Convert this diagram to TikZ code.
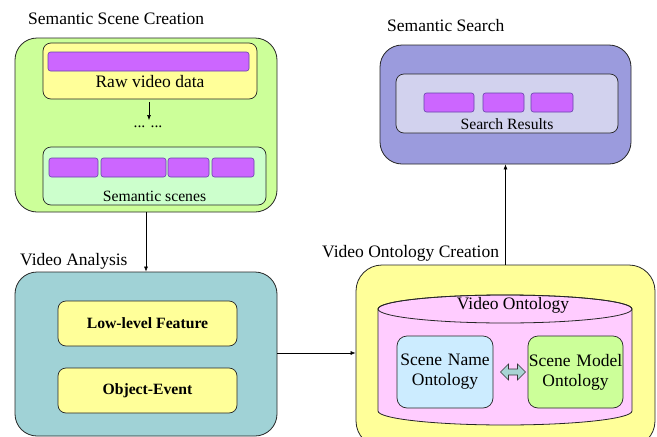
\documentclass[tikz,border=0pt]{standalone}
\usepackage{fontspec}
\setmainfont{Liberation Serif}
\usetikzlibrary{shapes.arrows,arrows.meta}
\definecolor{sscfill}{HTML}{CCFF99}
\definecolor{yel}{HTML}{FFFF99}
\definecolor{purp}{HTML}{CC66FF}
\definecolor{purpb}{HTML}{6644AA}
\definecolor{scfill}{HTML}{CCFFCC}
\definecolor{vafill}{HTML}{A0D2D6}
\definecolor{ssfill}{HTML}{9B9BDD}
\definecolor{srfill}{HTML}{D2D2EE}
\definecolor{pink}{HTML}{FFCCFF}
\definecolor{snfill}{HTML}{CCECFF}
\definecolor{smfill}{HTML}{CCFF99}
\definecolor{darr}{HTML}{A8D4D4}
\tikzset{
  big/.style={font=\fontsize{17.5}{20}\selectfont},
  small/.style={font=\fontsize{15.7}{18}\selectfont},
  group/.style={draw=black!85, line width=0.8pt, rounded corners=22pt, inner sep=0pt},
  inbox/.style={draw=black!85, line width=0.7pt, rounded corners=8pt, inner sep=0pt},
  bar/.style={draw=purpb, fill=purp, line width=0.6pt, rounded corners=2.5pt, minimum height=19pt, inner sep=0pt},
  title/.style={big, anchor=west, inner sep=0pt},
  conn/.style={line width=0.6pt, -{Latex[length=5pt,width=4pt]}},
}
\begin{document}
\begin{tikzpicture}[x=1pt,y=-1pt]
\useasboundingbox (0,0) rectangle (657,437);
% Semantic Scene Creation
\node[title] (tssc) at (28,19) {Semantic Scene Creation};
\node[group, fill=sscfill, minimum width=262pt, minimum height=174pt] (ssc) at (146,125) {};
\node[inbox, fill=yel, minimum width=214pt, minimum height=56pt] (raw) at (150,71) {};
\node[bar, minimum width=201pt] (rawbar) at (148.5,61.5) {};
\node[big, inner sep=0pt] (rawt) at (150,82) {Raw video data};
\node[small, inner sep=0pt] (dots) at (148,127) {... ...};
\coordinate (a0) at (149,102);
\coordinate (a1) at (149,120);
\draw[conn] (a0) -- (a1);
\node[inbox, fill=scfill, minimum width=223pt, minimum height=58pt] (sc) at (154.5,176) {};
\node[bar, minimum width=49pt] (b1) at (73.5,167.5) {};
\node[bar, minimum width=65pt] (b2) at (133.5,167.5) {};
\node[bar, minimum width=41pt] (b3) at (188.5,167.5) {};
\node[bar, minimum width=42pt] (b4) at (233,167.5) {};
\node[small, inner sep=0pt] (sct) at (154.5,196) {Semantic scenes};
% Video Analysis
\node[title] (tva) at (20,261) {Video Analysis};
\node[group, fill=vafill, minimum width=262pt, minimum height=164pt] (va) at (146,354) {};
\node[inbox, fill=yel, minimum width=179pt, minimum height=45pt, font=\fontsize{15.7}{18}\selectfont\bfseries] (llf) at (147.5,323.5) {Low-level Feature};
\node[inbox, fill=yel, minimum width=179pt, minimum height=45pt, font=\fontsize{15.7}{18}\selectfont\bfseries] (oe) at (147.5,390.5) {Object-Event};
% Semantic Search
\node[title] (tss) at (387,26) {Semantic Search};
\node[group, fill=ssfill, minimum width=251pt, minimum height=119pt] (ss) at (505.5,104.5) {};
\node[inbox, fill=srfill, minimum width=222pt, minimum height=59pt] (sr) at (507,103.5) {};
\node[bar, minimum width=50pt] (s1) at (449,102.5) {};
\node[bar, minimum width=41pt] (s2) at (503.5,102.5) {};
\node[bar, minimum width=42pt] (s3) at (552,102.5) {};
\node[small, inner sep=0pt] (srt) at (507,124) {Search Results};
% Video Ontology Creation
\node[title] (tvoc) at (322,253) {Video Ontology Creation};
\node[group, fill=yel, rounded corners=26pt, minimum width=299pt, minimum height=182pt] (voc) at (505.5,356) {};
% cylinder
\filldraw[fill=pink, draw=black!85, line width=0.8pt] (378,309) -- (378,411) arc[start angle=180, end angle=360, x radius=127, y radius=-14] -- (632,309) arc[start angle=0, end angle=180, x radius=127, y radius=-14] -- cycle;
\draw[black!85, line width=0.8pt] (505,309) ellipse[x radius=127, y radius=14];
\node[big, inner sep=0pt] (vot) at (513,305) {Video Ontology};
\node[inbox, fill=snfill, rounded corners=10pt, minimum width=96pt, minimum height=72pt, big, align=center, text width=96pt] (sn) at (445,372) {Scene Name\\Ontology};
\node[inbox, fill=smfill, rounded corners=10pt, minimum width=95pt, minimum height=72pt, big, align=center, text width=95pt] (sm) at (575.5,372) {Scene Model\\Ontology};
\node[double arrow, draw=black!80, fill=darr, line width=0.6pt, minimum width=16pt, minimum height=25pt, double arrow head extend=3pt, inner sep=1.5pt] (dbl) at (513,372) {};
% connectors
\draw[conn] (ssc.south) -- (va.north);
\draw[conn] (va.east |- 0,353) coordinate (vae) -- (vae -| voc.west);
\draw[conn] (voc.north) -- (ss.south);
\end{tikzpicture}
\end{document}
